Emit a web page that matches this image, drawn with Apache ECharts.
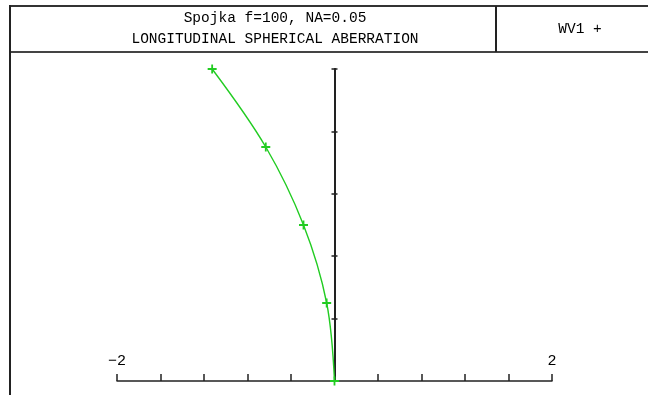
<!DOCTYPE html>
<html><head><meta charset="utf-8">
<script src="https://cdn.jsdelivr.net/npm/echarts@6/dist/echarts.min.js"></script>
<style>html,body{margin:0;padding:0;background:#fff}#c{width:648px;height:395px}</style>
</head><body><div id="c"></div>
<script>
const titleLine1 = 'Spojka f=100, NA=0.05';
const titleLine2 = 'LONGITUDINAL SPHERICAL ABERRATION';
const legendText = 'WV1 +';
const xTickLabels = ['\u22122', '2'];
// longitudinal aberration (x) vs normalized pupil height (y)
const aberration = [0, -0.072, -0.285, -0.632, -1.125];
const pupil = [0, 0.25, 0.5, 0.75, 1.0];

const green = '#22cc22';
const dark = '#222';
const font = '"Liberation Mono", "DejaVu Sans Mono", monospace';
const plus = 'path://M3.6,0h1.8v3.6h3.6v1.8h-3.6v3.6h-1.8v-3.6h-3.6v-1.8h3.6z';

const chart = echarts.init(document.getElementById('c'));
const yBase = {
  type: 'value', min: 0, max: 1, interval: 0.2, position: 'left', offset: -217.5,
  axisLine: { show: true, onZero: false, lineStyle: { color: dark, width: 2 } },
  axisLabel: { show: false }, splitLine: { show: false }
};
chart.setOption({
  animation: false,
  grid: { left: 117, top: 69, width: 435, height: 312, containLabel: false },
  xAxis: {
    type: 'value', min: -2, max: 2, interval: 0.4,
    axisLine: { show: true, onZero: false, lineStyle: { color: dark, width: 1.5 } },
    axisTick: { show: true, inside: true, length: 7, lineStyle: { color: dark, width: 1.5 } },
    axisLabel: {
      show: true, inside: true, margin: 12, color: '#000', fontFamily: font, fontSize: 15,
      formatter: v => (Math.abs(v + 2) < 1e-6 ? xTickLabels[0] : (Math.abs(v - 2) < 1e-6 ? xTickLabels[1] : ''))
    },
    splitLine: { show: false }
  },
  yAxis: [
    Object.assign({}, yBase, { axisTick: { show: true, inside: false, length: 3, lineStyle: { color: dark, width: 1.5 } } }),
    Object.assign({}, yBase, { axisTick: { show: true, inside: true, length: 3, lineStyle: { color: dark, width: 1.5 } } })
  ],
  series: [{
    type: 'line',
    data: aberration.map((a, i) => [a, pupil[i]]),
    smooth: 0.35,
    symbol: plus, symbolSize: 9, showAllSymbol: true,
    lineStyle: { color: green, width: 1.4 },
    itemStyle: { color: green },
    z: 5
  }],
  graphic: [
    { type: 'line', shape: { x1: 10, y1: 6, x2: 648, y2: 6 }, style: { stroke: '#333', lineWidth: 2 } },
    { type: 'line', shape: { x1: 10, y1: 52, x2: 648, y2: 52 }, style: { stroke: '#444', lineWidth: 2 } },
    { type: 'line', shape: { x1: 10, y1: 5, x2: 10, y2: 395 }, style: { stroke: '#222', lineWidth: 2 } },
    { type: 'line', shape: { x1: 496, y1: 6, x2: 496, y2: 52 }, style: { stroke: '#222', lineWidth: 2 } },
    { type: 'text', x: 275, y: 18.5, style: { text: titleLine1, font: '14.5px ' + font, fill: '#000', textAlign: 'center', textVerticalAlign: 'middle' } },
    { type: 'text', x: 275, y: 39.5, style: { text: titleLine2, font: '14.5px ' + font, fill: '#000', textAlign: 'center', textVerticalAlign: 'middle' } },
    { type: 'text', x: 580, y: 29, style: { text: legendText, font: '14.5px ' + font, fill: '#000', textAlign: 'center', textVerticalAlign: 'middle' } }
  ]
});
</script></body></html>
